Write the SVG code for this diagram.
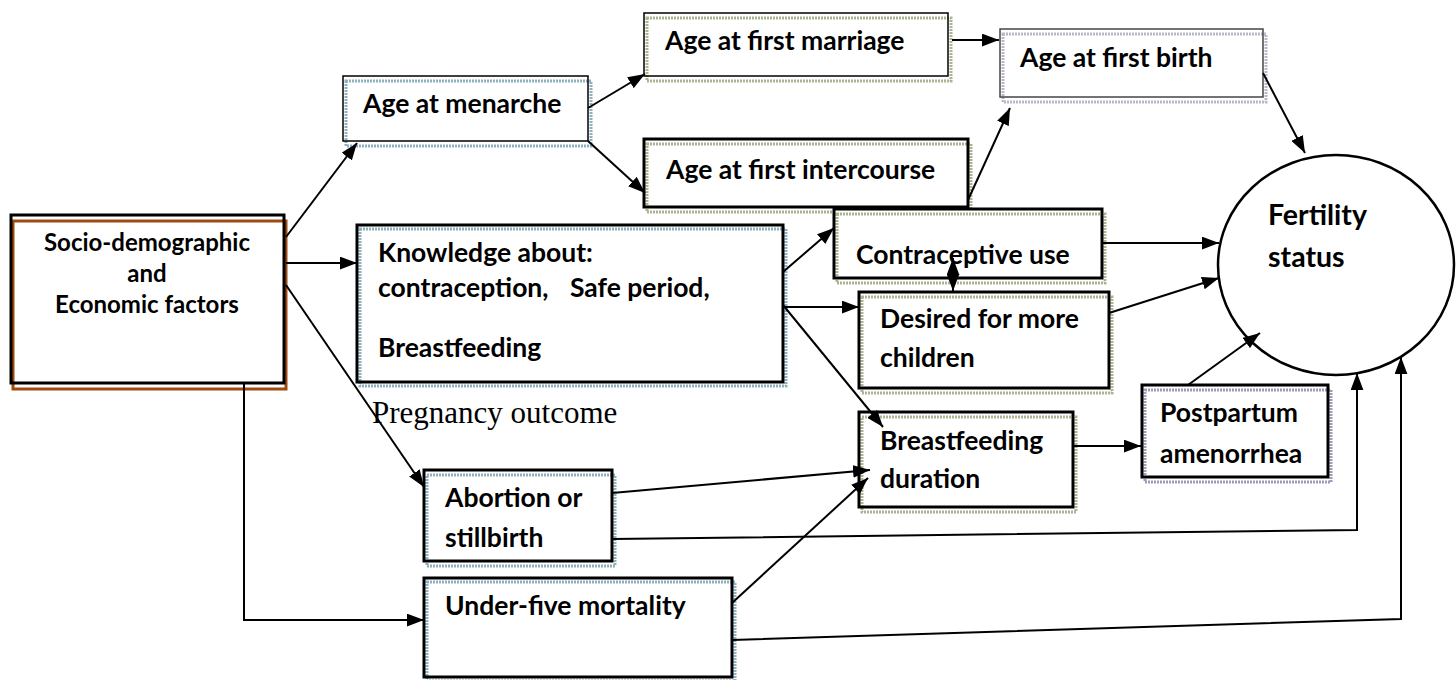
<svg xmlns="http://www.w3.org/2000/svg" width="1456" height="680" viewBox="0 0 1456 680">
<style>
.t{font-family:Lato,"Liberation Sans",sans-serif;font-weight:bold;font-size:26.5px;fill:#000}
.ts{font-family:Lato,"Liberation Sans",sans-serif;font-weight:bold;font-size:24px;fill:#000}
.bx{fill:#fff}
.bk{fill:none;stroke:#000;stroke-width:3}
.bkt{fill:none;stroke:#000;stroke-width:1.5}
.sh{fill:none;stroke-width:3;stroke-dasharray:2 1}
.blue{stroke:#8fb0be}
.green{stroke:#a8b590}
.gray{stroke:#b8b8c8}
.purp{stroke:#a09cb8}
.c{fill:none;stroke:#000;stroke-width:2}
</style>
<defs>
<marker id="ah" viewBox="0 0 16 12" refX="16" refY="6" markerWidth="17" markerHeight="13" markerUnits="userSpaceOnUse" orient="auto-start-reverse">
<path d="M0,0 L16,6 L0,12 z" fill="#000"/>
</marker>
</defs>

<g id="socio">
<rect class="bx" x="11" y="215" width="273" height="168"/>
<rect x="13" y="221" width="273" height="168" fill="none" stroke="#9e4a10" stroke-width="3"/>
<rect class="bk" x="11" y="215" width="273" height="168"/>
<text class="ts" x="147" y="251" text-anchor="middle">Socio-demographic</text>
<text class="ts" x="147" y="282" text-anchor="middle">and</text>
<text class="ts" x="147" y="313" text-anchor="middle">Economic factors</text>
</g>

<g id="menarche">
<rect class="bx" x="343" y="76" width="245" height="65"/>
<rect class="sh blue" x="346" y="81" width="245" height="65"/>
<rect class="bkt" x="343" y="76" width="245" height="65"/>
<text class="t" x="363" y="113">Age at menarche</text>
</g>

<g id="marriage">
<rect class="bx" x="644" y="13" width="304" height="63"/>
<rect class="sh green" x="647" y="18" width="304" height="63"/>
<rect class="bkt" x="644" y="13" width="304" height="63"/>
<text class="t" x="665" y="50">Age at first marriage</text>
</g>

<g id="birth">
<rect class="bx" x="1000" y="29" width="263" height="68"/>
<rect class="sh gray" x="1003" y="34" width="263" height="68"/>
<rect x="1000" y="29" width="263" height="68" fill="none" stroke="#444" stroke-width="1.5"/>
<text class="t" x="1020" y="67">Age at first birth</text>
</g>

<g id="intercourse">
<rect class="bx" x="644" y="139" width="324" height="68"/>
<rect class="sh green" x="647" y="144" width="324" height="68"/>
<rect class="bk" x="644" y="139" width="324" height="68"/>
<text class="t" x="666" y="179">Age at first intercourse</text>
</g>

<g id="knowledge">
<rect class="bx" x="357" y="225" width="426" height="157"/>
<rect class="sh blue" x="360" y="229" width="426" height="157"/>
<rect class="bk" x="357" y="225" width="426" height="157"/>
<text class="t" x="378" y="262">Knowledge about:</text>
<text class="t" x="378" y="297">contraception,</text>
<text class="t" x="570" y="297">Safe period,</text>
<text class="t" x="378" y="357">Breastfeeding</text>
</g>

<g id="contraceptive">
<rect class="bx" x="834" y="209" width="268" height="69"/>
<rect class="sh green" x="837" y="214" width="268" height="69"/>
<rect class="bk" x="834" y="209" width="268" height="69"/>
<text class="t" x="856" y="264">Contraceptive use</text>
</g>

<g id="desired">
<rect class="bx" x="859" y="292" width="250" height="96"/>
<rect class="sh green" x="862" y="297" width="250" height="96"/>
<rect class="bk" x="859" y="292" width="250" height="96"/>
<text class="t" x="880" y="328">Desired for more</text>
<text class="t" x="880" y="367">children</text>
</g>

<g id="breastfeeding">
<rect class="bx" x="859" y="412" width="214" height="95"/>
<rect class="sh green" x="862" y="417" width="214" height="95"/>
<rect class="bk" x="859" y="412" width="214" height="95"/>
<text class="t" x="880" y="450">Breastfeeding</text>
<text class="t" x="880" y="488">duration</text>
</g>

<g id="postpartum">
<rect class="bx" x="1142" y="385" width="186" height="92"/>
<rect class="sh purp" x="1145" y="390" width="186" height="92"/>
<rect class="bk" x="1142" y="385" width="186" height="92"/>
<text class="t" x="1160" y="422">Postpartum</text>
<text class="t" x="1160" y="463">amenorrhea</text>
</g>

<g id="abortion">
<rect class="bx" x="424" y="470" width="188" height="91"/>
<rect class="sh blue" x="427" y="475" width="188" height="91"/>
<rect class="bk" x="424" y="470" width="188" height="91"/>
<text class="t" x="445" y="507">Abortion or</text>
<text class="t" x="445" y="547">stillbirth</text>
</g>

<g id="underfive">
<rect class="bx" x="424" y="578" width="308" height="99"/>
<rect class="sh blue" x="427" y="582" width="308" height="99"/>
<rect class="bk" x="424" y="578" width="308" height="99"/>
<text class="t" x="445" y="615">Under-five mortality</text>
</g>

<g id="fertility">
<ellipse cx="1336" cy="265" rx="118" ry="110" fill="#fff" stroke="#000" stroke-width="2.5"/>
<text class="t" x="1268" y="225" style="font-size:28.5px">Fertility</text>
<text class="t" x="1268" y="267" style="font-size:28.5px">status</text>
</g>

<text id="pregnancy" x="372" y="423" font-family="'Liberation Serif',serif" font-size="31">Pregnancy outcome</text>

<g id="connectors">
<path class="c" d="M286,237 L357,143" marker-end="url(#ah)"/>
<path class="c" d="M286,263 L357,263" marker-end="url(#ah)"/>
<path class="c" d="M286,285 L424,487" marker-end="url(#ah)"/>
<path class="c" d="M244,383 L244,620 L424,620" marker-end="url(#ah)"/>
<path class="c" d="M588,108 L645,74" marker-end="url(#ah)"/>
<path class="c" d="M588,141 L645,193" marker-end="url(#ah)"/>
<path class="c" d="M952,40 L999,40" marker-end="url(#ah)"/>
<path class="c" d="M968,200 L1010,108" marker-end="url(#ah)"/>
<path class="c" d="M1263,73 L1305,153" marker-end="url(#ah)"/>
<path class="c" d="M783,272 L834,228" marker-end="url(#ah)"/>
<path class="c" d="M783,307 L859,307" marker-end="url(#ah)"/>
<path class="c" d="M783,305 L883,427" marker-end="url(#ah)"/>
<path class="c" d="M953,258 L953,291" marker-start="url(#ah)" marker-end="url(#ah)"/>
<path class="c" d="M1102,243 L1219,243" marker-end="url(#ah)"/>
<path class="c" d="M1109,313 L1219,278" marker-end="url(#ah)"/>
<path class="c" d="M1073,446 L1141,446" marker-end="url(#ah)"/>
<path class="c" d="M1188,385 L1260,333" marker-end="url(#ah)"/>
<path class="c" d="M612,493 L870,470" marker-end="url(#ah)"/>
<path class="c" d="M732,603 L868,478" marker-end="url(#ah)"/>
<path class="c" d="M612,539 L1357,530 L1357,373" marker-end="url(#ah)"/>
<path class="c" d="M732,640 L1401,619 L1401,357" marker-end="url(#ah)"/>
</g>
</svg>
